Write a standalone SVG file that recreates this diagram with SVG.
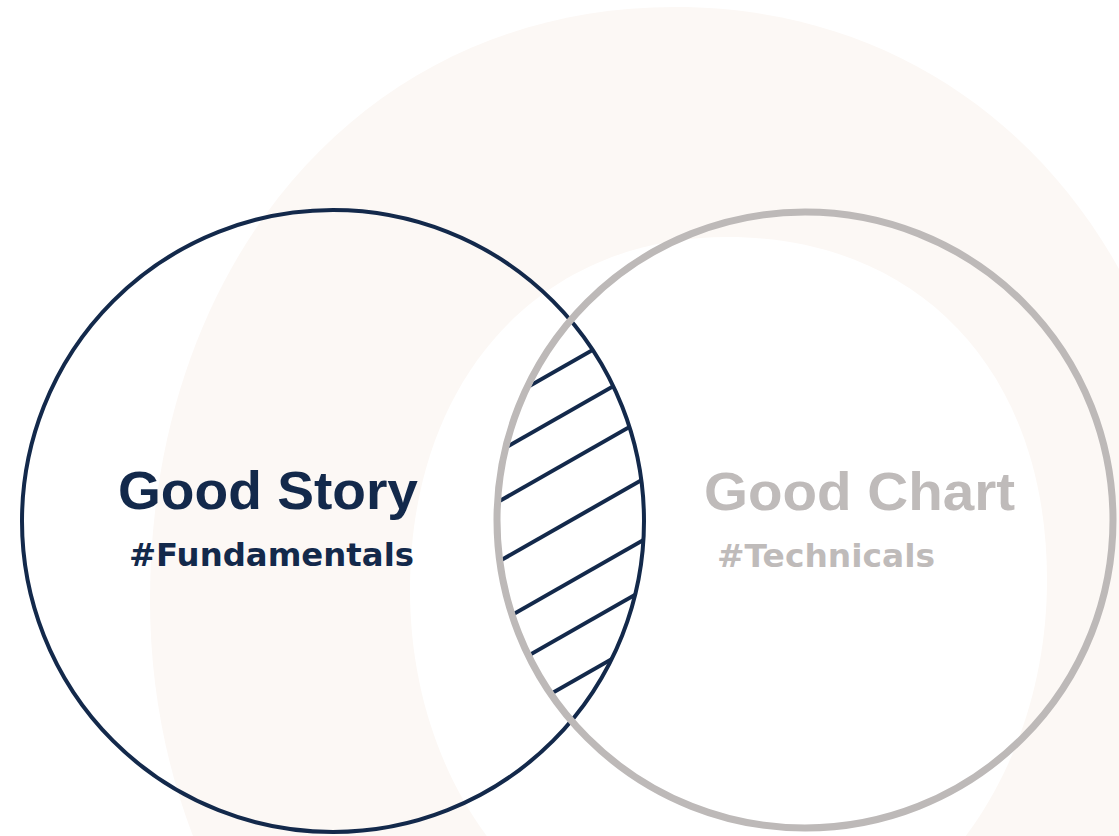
<svg xmlns="http://www.w3.org/2000/svg" width="1119" height="836" viewBox="0 0 1119 836">
  <style>
    .title { font-family: "Liberation Sans", Arial, sans-serif; font-weight: bold; font-size: 53px; }
    .sub { font-family: "DejaVu Sans", "Liberation Sans", sans-serif; font-weight: bold; font-size: 32px; }
    .navy { fill: #13294b; }
    .grey { fill: #bfbbba; }
    .hatch line { stroke: #13294b; stroke-width: 4; stroke-linecap: butt; }
  </style>
  <defs>
    <clipPath id="clipStory"><circle cx="333" cy="521" r="310"/></clipPath>
    <clipPath id="clipChart"><circle cx="805" cy="520" r="305"/></clipPath>
  </defs>

  <g id="background">
    <rect x="0" y="0" width="1119" height="836" fill="#ffffff"/>
    <path d="M150,600 C150,260 365,7 675,7 C985,7 1200,260 1200,600 C1200,930 965,1190 675,1190 C385,1190 150,930 150,600 Z" fill="#fcf8f5"/>
    <path d="M410,590 C410,380 538,237 728,237 C918,237 1047,370 1047,580 C1047,780 918,960 728,960 C538,960 410,790 410,590 Z" fill="#ffffff"/>
  </g>

  <g id="good-story">
    <circle cx="333" cy="521" r="311" fill="none" stroke="#13294b" stroke-width="4"/>
    <text class="title navy" x="118" y="509" textLength="300" lengthAdjust="spacingAndGlyphs">Good Story</text>
    <text class="sub navy" x="129" y="566" textLength="285" lengthAdjust="spacingAndGlyphs">#Fundamentals</text>
  </g>

  <g id="overlap" class="hatch">
    <g clip-path="url(#clipStory)">
      <g clip-path="url(#clipChart)">
        <line x1="450" y1="431.3" x2="700" y2="288.8"/>
        <line x1="450" y1="479.3" x2="700" y2="336.8"/>
        <line x1="450" y1="529.3" x2="700" y2="386.8"/>
        <line x1="450" y1="589.3" x2="700" y2="446.8"/>
        <line x1="450" y1="650.3" x2="700" y2="507.8"/>
        <line x1="450" y1="700.3" x2="700" y2="557.8"/>
        <line x1="450" y1="751.3" x2="700" y2="608.8"/>
      </g>
    </g>
  </g>

  <g id="good-chart">
    <circle cx="805" cy="520" r="308" fill="none" stroke="#bdb9b8" stroke-width="7"/>
    <text class="title grey" x="704" y="510" textLength="311" lengthAdjust="spacingAndGlyphs">Good Chart</text>
    <text class="sub grey" x="717" y="567" textLength="218" lengthAdjust="spacingAndGlyphs">#Technicals</text>
  </g>
</svg>
